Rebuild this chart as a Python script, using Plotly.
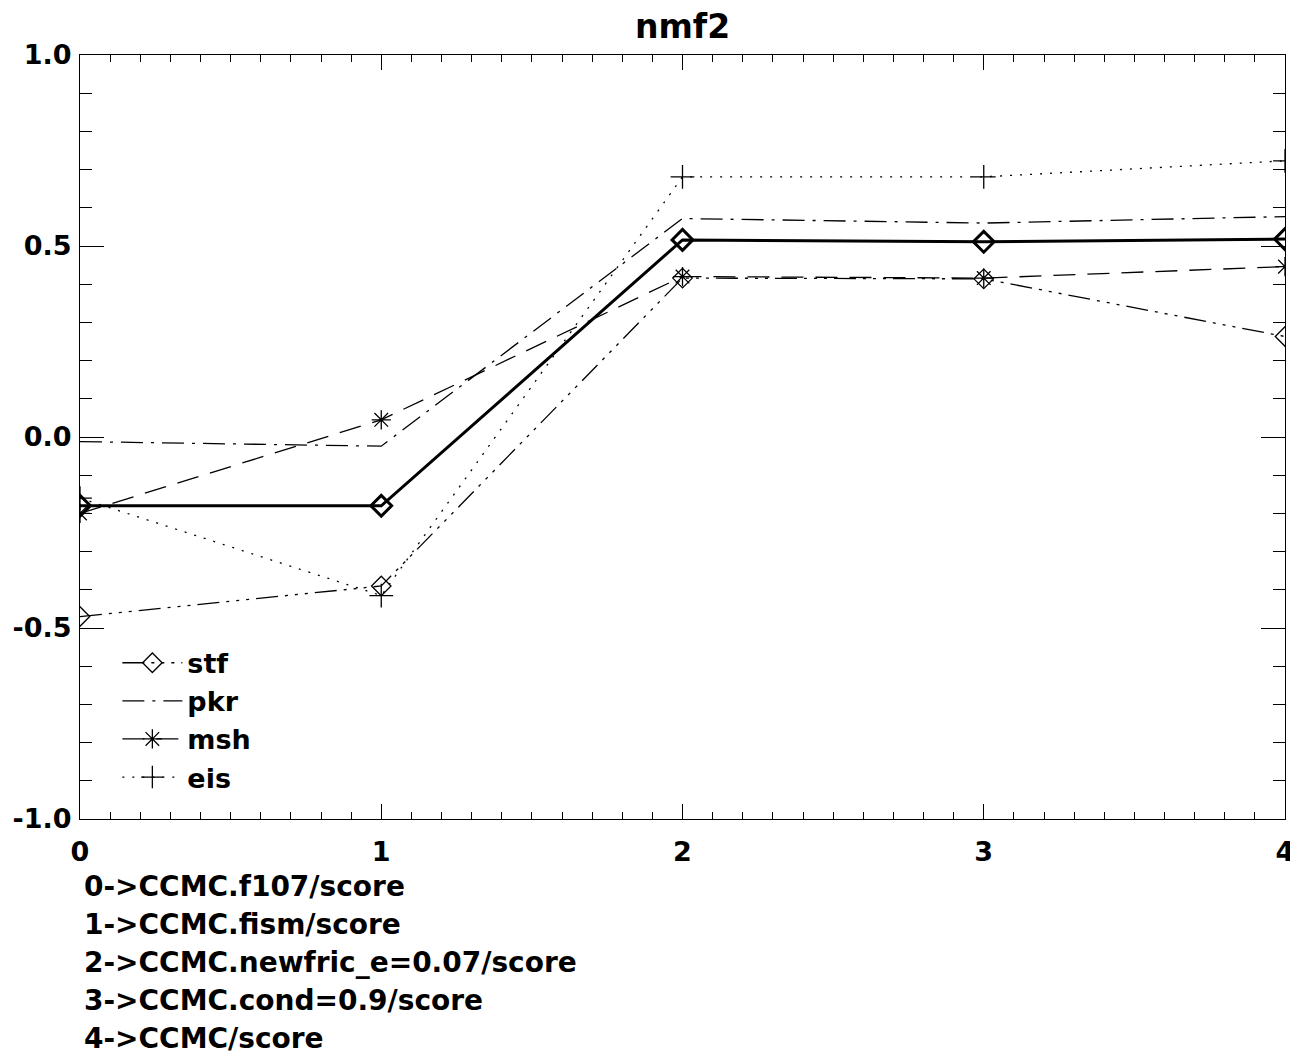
import plotly.graph_objects as go

# ---- data ----
x_vals = [0, 1, 2, 3, 4]
x_tick_labels = ["0", "1", "2", "3", "4"]
y_tick_vals = [-1.0, -0.5, 0.0, 0.5, 1.0]
y_tick_labels = ["-1.0", "-0.5", "0.0", "0.5", "1.0"]
mean_vals = [-0.18, -0.18, 0.516, 0.511, 0.518]
stf_vals = [-0.47, -0.39, 0.416, 0.414, 0.263]
pkr_vals = [-0.012, -0.024, 0.572, 0.56, 0.577]
msh_vals = [-0.20, 0.045, 0.42, 0.416, 0.446]
eis_vals = [-0.16, -0.415, 0.681, 0.681, 0.723]
bottom_notes = [
    "0->CCMC.f107/score",
    "1->CCMC.fism/score",
    "2->CCMC.newfric_e=0.07/score",
    "3->CCMC.cond=0.9/score",
    "4->CCMC/score",
]
title_text = "nmf2"

# page body has an 8px margin; figure is sized/offset to compensate
OFF = 8
W, H = 1298 - OFF, 1053 - OFF
L, R, T, B = 80 - OFF, 13, 55 - OFF, 234
plot_h = H - T - B
plot_w = W - L - R

FONT = "DejaVu Sans, Liberation Sans, Arial, sans-serif"

fig = go.Figure()

fig.add_trace(go.Scatter(
    x=x_vals, y=mean_vals, mode="lines+markers", showlegend=False,
    line=dict(color="black", width=3),
    marker=dict(symbol="diamond-open", size=16, color="black", line=dict(width=3, color="black")),
))
fig.add_trace(go.Scatter(
    x=x_vals, y=stf_vals, mode="lines+markers", name="stf",
    line=dict(color="black", width=1.3, dash="22px,7px,3px,7px,3px,7px,3px,7px"),
    marker=dict(symbol="diamond-open", size=15, color="black", line=dict(width=1.3, color="black")),
))
fig.add_trace(go.Scatter(
    x=x_vals, y=pkr_vals, mode="lines", name="pkr",
    line=dict(color="black", width=1.3, dash="22px,8px,3px,8px"),
))
fig.add_trace(go.Scatter(
    x=x_vals, y=msh_vals, mode="lines+markers", name="msh",
    line=dict(color="black", width=1.3, dash="22px,12px"),
    marker=dict(symbol="asterisk-open", size=16, color="black", line=dict(width=1.3, color="black")),
))
fig.add_trace(go.Scatter(
    x=x_vals, y=eis_vals, mode="lines+markers", name="eis",
    line=dict(color="black", width=1.3, dash="2px,8px"),
    marker=dict(symbol="cross-thin-open", size=17, color="black", line=dict(width=1.3, color="black")),
))

annotations = []
for i, note in enumerate(bottom_notes):
    yc = 886 - OFF + 38 * i
    annotations.append(dict(
        text=note, xref="paper", yref="paper",
        x=(82 - OFF - L) / plot_w, y=(H - B - yc) / plot_h,
        xanchor="left", yanchor="middle", showarrow=False,
        font=dict(family=FONT, size=28, color="black", weight="bold"),
    ))

fig.update_layout(
    width=W, height=H,
    margin=dict(l=L, r=R, t=T, b=B, autoexpand=False),
    paper_bgcolor="white", plot_bgcolor="white",
    font=dict(family=FONT, size=27, color="black", weight="bold"),
    title=dict(text=title_text, x=(L + plot_w / 2) / W, xanchor="center",
               y=1 - (26 - OFF) / H, yanchor="middle",
               font=dict(family=FONT, size=33, color="black", weight="bold")),
    legend=dict(x=0.031, y=0.236, xanchor="left", yanchor="top",
                bgcolor="rgba(0,0,0,0)", font=dict(family=FONT, size=27, color="black", weight="bold"),
                tracegroupgap=0, itemwidth=60),
    annotations=annotations,
    showlegend=True,
)

fig.update_xaxes(
    range=[0, 4], tickvals=x_vals, ticktext=x_tick_labels, automargin=False,
    showgrid=False, zeroline=False, showline=True, linecolor="black", linewidth=1,
    mirror="allticks", ticks="inside", ticklen=15, tickcolor="black", tickwidth=1,
    minor=dict(ticks="inside", dtick=0.1, ticklen=7, tickcolor="black", tickwidth=1, showgrid=False),
    ticklabelstandoff=9,
    tickfont=dict(family=FONT, size=27, color="black", weight="bold"),
)
fig.update_yaxes(
    range=[-1, 1], tickvals=y_tick_vals, ticktext=y_tick_labels, automargin=False,
    showgrid=False, zeroline=False, showline=True, linecolor="black", linewidth=1,
    mirror="allticks", ticks="inside", ticklen=24, tickcolor="black", tickwidth=1,
    minor=dict(ticks="inside", dtick=0.1, ticklen=12, tickcolor="black", tickwidth=1, showgrid=False),
    ticklabelstandoff=2,
    tickfont=dict(family=FONT, size=27, color="black", weight="bold"),
)

fig.write_html("out.html")
